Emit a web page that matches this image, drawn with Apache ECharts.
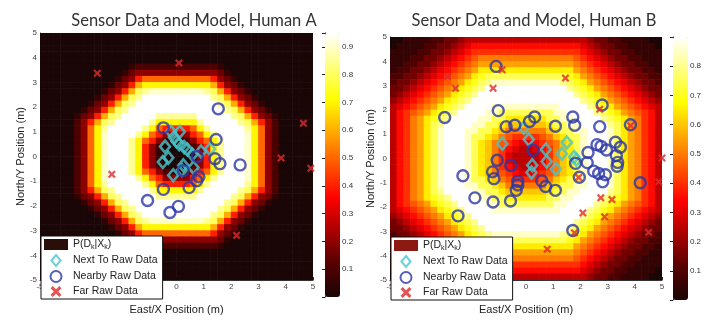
<!DOCTYPE html>
<html><head><meta charset="utf-8">
<script src="https://cdn.jsdelivr.net/npm/echarts@6/dist/echarts.min.js"></script>
<style>html,body{margin:0;padding:0;background:#fff}#c{width:704px;height:320px}</style>
</head><body><div id="c"></div>
<script>
// cell centres of the model grid (m), 0.25 m cells
const cellCenters = [-4.875,-4.625,-4.375,-4.125,-3.875,-3.625,-3.375,-3.125,-2.875,-2.625,-2.375,-2.125,-1.875,-1.625,-1.375,-1.125,-0.875,-0.625,-0.375,-0.125,
  0.125,0.375,0.625,0.875,1.125,1.375,1.625,1.875,2.125,2.375,2.625,2.875,3.125,3.375,3.625,3.875,4.125,4.375,4.625,4.875];
const axisTicks = [-5,-4,-3,-2,-1,0,1,2,3,4,5];
const colorbarTicksA = [0.1,0.2,0.3,0.4,0.5,0.6,0.7,0.8,0.9];
const colorbarTicksB = [0.1,0.2,0.3,0.4,0.5,0.6,0.7,0.8];
const colorMaxA = 0.95;
const colorMaxB = 0.9;
// model P(Dk|Xk): rows from top (y=4.875) to bottom, one char per cell, 'a'=0.00 ... 't'=0.95 (0.05 steps)
const fieldA = [
"aaaaaaaaaaaaaaaaaaaa"+"aaaaaaaaaaaaaaaaaaaa",
"aaaaaaaaaaaaaaaaaaaa"+"aaaaaaaaaaaaaaaaaaaa",
"aaaaaaaaaaaaaaaaaaaa"+"aaaaaaaaaaaaaaaaaaaa",
"aaaaaaaaaaaaaaaaaaaa"+"aaaaaaaaaaaaaaaaaaaa",
"aaaaaaaaaaaaaaaaaaaa"+"aaaaaaaaaaaaaaaaaaaa",
"aaaaaaaaaaaaabcccccc"+"ccccccbaaaaaaaaaaaaa",
"aaaaaaaaaaaabdeeeeee"+"eeeeeedbaaaaaaaaaaaa",
"aaaaaaaaaaabdeikkkkk"+"kkkkkiedbaaaaaaaaaaa",
"aaaaaaaaaabdeimooooo"+"ooooomiedbaaaaaaaaaa",
"aaaaaaaaabdeimqrssss"+"ssssrqmiedbaaaaaaaaa",
"aaaaaaaabdeimqrttttt"+"tttttrqmiedbaaaaaaaa",
"aaaaaaabdeimqrtttttt"+"ttttttrqmiedbaaaaaaa",
"aaaaaabdeimqrttttttt"+"tttttttrqmiedbaaaaaa",
"aaaaabdeimqrtttttrrr"+"rrrtttttrqmiedbaaaaa",
"aaaaaceimqrtttttrooo"+"ooortttttrqmiecaaaaa",
"aaaaacekortttttrokii"+"iikortttttrokecaaaaa",
"aaaaacekosttttrokiee"+"eeikorttttsokecaaaaa",
"aaaaacekostttrokiecb"+"bceikortttsokecaaaaa",
"aaaaacekostttroiecaa"+"aaceiortttsokecaaaaa",
"aaaaacekostttroiebaa"+"aabeiortttsokecaaaaa",
"aaaaacekostttroiebaa"+"aabeiortttsokecaaaaa",
"aaaaacekostttroiecaa"+"aaceiortttsokecaaaaa",
"aaaaacekostttrokiecb"+"bceikortttsokecaaaaa",
"aaaaacekosttttrokiee"+"eeikorttttsokecaaaaa",
"aaaaacekortttttrokii"+"iikortttttrokecaaaaa",
"aaaaaceimqrtttttrooo"+"ooortttttrqmiecaaaaa",
"aaaaabdeimqrtttttrrr"+"rrrtttttrqmiedbaaaaa",
"aaaaaabdeimqrttttttt"+"tttttttrqmiedbaaaaaa",
"aaaaaaabdeimqrtttttt"+"ttttttrqmiedbaaaaaaa",
"aaaaaaaabdeimqrttttt"+"tttttrqmiedbaaaaaaaa",
"aaaaaaaaabdeimqrssss"+"ssssrqmiedbaaaaaaaaa",
"aaaaaaaaaabdeimooooo"+"ooooomiedbaaaaaaaaaa",
"aaaaaaaaaaabdeikkkkk"+"kkkkkiedbaaaaaaaaaaa",
"aaaaaaaaaaaabdeeeeee"+"eeeeeedbaaaaaaaaaaaa",
"aaaaaaaaaaaaabcccccc"+"ccccccbaaaaaaaaaaaaa",
"aaaaaaaaaaaaaaaaaaaa"+"aaaaaaaaaaaaaaaaaaaa",
"aaaaaaaaaaaaaaaaaaaa"+"aaaaaaaaaaaaaaaaaaaa",
"aaaaaaaaaaaaaaaaaaaa"+"aaaaaaaaaaaaaaaaaaaa",
"aaaaaaaaaaaaaaaaaaaa"+"aaaaaaaaaaaaaaaaaaaa",
"aaaaaaaaaaaaaaaaaaaa"+"aaaaaaaaaaaaaaaaaaaa"
];
const fieldB = [
"aabbbbccddefffffffff"+"fffffffffeddccbbbbaa",
"abbbbccddefghhhhhhhh"+"hhhhhhhhgfeddccbbbba",
"bbbbccddefghiiiiiiii"+"iiiiiiiihgfeddccbbbb",
"bbbccddefghijkkkkkkk"+"kkkkkkkjihgfeddccbbb",
"bbccddefghijklllllll"+"lllllllkjihgfeddccbb",
"bccddefghijklnnnnnnn"+"nnnnnnnlkjihgfeddccb",
"ccddefghijklnopppppp"+"pppppponlkjihgfeddcc",
"cddefghijklnopqrrrrr"+"rrrrrqponlkjihgfeddc",
"ddefghijklnopqssssss"+"ssssssqponlkjihgfedd",
"defghijklnopqsssssss"+"sssssssqponlkjihgfed",
"efghijklnopqssssssss"+"ssssssssqponlkjihgfe",
"fghijklnopqssssrrrrr"+"rrrrrssssqponlkjihgf",
"fhijklnopqssssrrpppp"+"pppprrssssqponlkjihf",
"fhiklnopqssssrrppnnn"+"nnnpprrssssqponlkihf",
"fhiklnpqssssrrppnmmm"+"mmmnpprrssssqpnlkihf",
"fhiklnprsssrrppnmkkk"+"kkkmnpprrsssrpnlkihf",
"fhiklnprsssrppnmkjii"+"iijkmnpprsssrpnlkihf",
"fhiklnprsssrpnmkjihg"+"ghijkmnprsssrpnlkihf",
"fhiklnprsssrpnmkihgf"+"fghikmnprsssrpnlkihf",
"fhiklnprsssrpnmkigff"+"ffgikmnprsssrpnlkihf",
"fhiklnprsssrpnmkigff"+"ffgikmnprsssrpnlkihf",
"fhiklnprsssrpnmkihgf"+"fghikmnprsssrpnlkihf",
"fhiklnprsssrpnmkjihg"+"ghijkmnprsssrpnlkihf",
"fhiklnprsssrppnmkjii"+"iijkmnpprsssrpnlkihf",
"fhiklnprsssrrppnmkkk"+"kkkmnpprrsssrpnlkihf",
"fhiklnpqssssrrppnmmm"+"mmmnpprrssssqpnlkihf",
"fhiklnopqssssrrppnnn"+"nnnpprrssssqponlkihf",
"fhijklnopqssssrrpppp"+"pppprrssssqponlkjihf",
"fghijklnopqssssrrrrr"+"rrrrrssssqponlkjihgf",
"efghijklnopqssssssss"+"ssssssssqponlkjihgfe",
"defghijklnopqsssssss"+"sssssssqponlkjihgfed",
"ddefghijklnopqssssss"+"ssssssqponlkjihgfedd",
"cddefghijklnopqrrrrr"+"rrrrrqponlkjihgfeddc",
"ccddefghijklnopppppp"+"pppppponlkjihgfeddcc",
"bccddefghijklnnnnnnn"+"nnnnnnnlkjihgfeddccb",
"bbccddefghijklllllll"+"lllllllkjihgfeddccbb",
"bbbccddefghijkkkkkkk"+"kkkkkkkjihgfeddccbbb",
"bbbbccddefghiiiiiiii"+"iiiiiiiihgfeddccbbbb",
"abbbbccddefghhhhhhhh"+"hhhhhhhhgfeddccbbbba",
"aabbbbccddefffffffff"+"fffffffffeddccbbbbaa"
];
// raw sensor data, Human A
const nextA = [[-0.2,1.0],[0.12,1.0],[-0.1,0.78],[0.0,0.62],[0.1,0.5],[-0.42,0.4],[0.28,0.38],[0.4,0.28],[0.58,0.08],[0.9,0.2],[1.23,0.3],[-0.3,-0.05],[-0.5,-0.22],[0.25,-0.35],[0.62,-0.45],[-0.12,-0.76],[0.2,-0.55]];
const nearbyA = [[1.53,1.93],[-0.48,1.16],[1.45,0.69],[0.76,0.0],[1.41,-0.09],[1.59,-0.29],[2.33,-0.34],[0.25,-0.57],[0.82,-0.82],[0.74,-0.98],[0.46,-1.26],[-0.48,-1.33],[-1.06,-1.78],[0.07,-2.02],[-0.24,-2.27]];
const farA = [[-2.9,3.37],[0.09,3.79],[4.65,1.35],[3.83,-0.06],[4.92,-0.48],[-2.37,-0.72],[2.2,-3.19]];
// raw sensor data, Human B
const nextB = [[-0.87,0.61],[-0.08,1.27],[0.1,0.78],[0.73,0.37],[0.76,-0.12],[0.23,-0.28],[0.2,-0.58],[1.1,-0.43],[1.32,0.2],[1.5,0.66],[1.77,0.06],[1.85,-0.05]];
const nearbyB = [[-1.1,3.79],[-2.99,1.69],[-1.02,1.97],[-0.73,1.31],[-0.41,1.37],[0.13,1.52],[0.32,1.71],[1.08,1.33],[1.72,1.71],[1.79,1.37],[2.8,2.2],[2.71,1.31],[3.84,1.39],[0.26,0.34],[-1.06,-0.07],[-0.56,-0.29],[-2.32,-0.71],[-1.23,-0.55],[-1.18,-0.83],[-0.3,-0.94],[-0.3,-1.09],[-0.36,-1.31],[0.58,-0.92],[0.72,-1.15],[1.08,-1.31],[-0.57,-1.75],[-1.21,-1.79],[-1.88,-1.62],[-2.5,-2.36],[1.82,-0.2],[1.96,-0.77],[2.28,0.25],[2.25,-0.17],[2.61,0.57],[2.76,0.5],[2.96,0.35],[2.49,-0.52],[2.67,-0.62],[2.92,-0.67],[2.82,-0.96],[3.29,0.67],[3.47,0.46],[3.32,0.12],[3.37,-0.16],[3.35,-0.32],[4.2,-1.0],[1.72,-2.96]];
const farB = [[-0.88,3.65],[-2.89,3.37],[-2.59,2.89],[-1.21,2.89],[1.45,3.31],[2.71,2.03],[3.85,1.35],[5.0,0.02],[1.94,-0.78],[4.88,-0.96],[2.75,-1.62],[3.16,-1.69],[2.09,-2.24],[2.89,-2.4],[1.78,-3.06],[4.51,-3.04],[0.78,-3.73]];

const hot = ['#1a0606','#550000','#aa0000','#ff0000','#ff5500','#ffaa00','#ffff00','#ffff80','#ffffff'];
const FONT = 'Liberation Sans';
const XMARK = 'path://M2,0L5,3L8,0L10,2L7,5L10,8L8,10L5,7L2,10L0,8L3,5L0,2Z';
const DIAMOND = 'path://M5,0L10,6L5,12L0,6Z';
const CELL = cellCenters[1] - cellCenters[0];

function cells(field){
  const out = [];
  field.forEach((row, r) => {
    for (let c = 0; c < row.length; c++) {
      out.push([cellCenters[c], cellCenters[field.length - 1 - r], (row.charCodeAt(c) - 97) * 0.05]);
    }
  });
  return out;
}
function renderCell(params, api){
  const x = api.value(0), y = api.value(1);
  const p0 = api.coord([x - CELL / 2, y + CELL / 2]);
  const p1 = api.coord([x + CELL / 2, y - CELL / 2]);
  return {type:'rect', shape:{x:p0[0] - 0.3, y:p0[1] - 0.3, width:p1[0] - p0[0] + 0.6, height:p1[1] - p0[1] + 0.6},
    style:{fill:api.visual('color')}};
}
function valX(grid){
  return {type:'value', gridIndex:grid, position:'bottom', min:axisTicks[0], max:axisTicks[axisTicks.length-1], interval:1,
    name:'East/X Position (m)', nameLocation:'middle', nameGap:24,
    nameTextStyle:{fontSize:11, color:'#222', fontFamily:FONT},
    axisLine:{show:true, onZero:false, lineStyle:{color:'#333', width:1}},
    axisTick:{show:true, inside:true, length:3, lineStyle:{color:'#333'}},
    axisLabel:{fontSize:8, color:'#444', margin:3, fontFamily:FONT},
    splitLine:{show:false}};
}
function valY(grid){
  return {type:'value', gridIndex:grid, position:'left', min:axisTicks[0], max:axisTicks[axisTicks.length-1], interval:1,
    name:'North/Y Position (m)', nameLocation:'middle', nameGap:11,
    nameTextStyle:{fontSize:11, color:'#222', fontFamily:FONT},
    axisLine:{show:true, onZero:false, lineStyle:{color:'#333', width:1}},
    axisTick:{show:true, inside:true, length:3, lineStyle:{color:'#333'}},
    axisLabel:{fontSize:8, color:'#444', margin:3, fontFamily:FONT},
    splitLine:{show:false}};
}
function cbY(grid, max, ticks){
  return {type:'value', gridIndex:grid, position:'right', min:0, max:max, interval:0.1,
    axisLine:{show:true, lineStyle:{color:'#222'}},
    axisTick:{show:true, inside:true, length:3, lineStyle:{color:'#222'}},
    axisLabel:{fontSize:8, color:'#333', margin:2, fontFamily:FONT,
      formatter:v => ticks.some(t => Math.abs(t - v) < 1e-6) ? v.toFixed(1) : ''},
    splitLine:{show:false}};
}
function scatterSeries(name, data, xi, yi, kind){
  const s = {type:'scatter', name:name, data:data, xAxisIndex:xi, yAxisIndex:yi, z:3};
  if (kind === 'diamond') { s.symbol=DIAMOND; s.symbolSize=[10,12]; s.itemStyle={color:'rgba(0,0,0,0)', borderColor:'#46c6cc', borderWidth:2.6}; }
  if (kind === 'circle') { s.symbol='circle'; s.symbolSize=11; s.itemStyle={color:'rgba(0,0,0,0)', borderColor:'#2a36a8', borderWidth:2.4}; }
  if (kind === 'x') { s.symbol=XMARK; s.symbolSize=8; s.itemStyle={color:'#e02a2a'}; s.z=4; }
  return s;
}
function heatSeries(field, axisIndex){
  return {type:'custom', name:'P(D_k|X_k)', data:cells(field), xAxisIndex:axisIndex, yAxisIndex:axisIndex,
    renderItem:renderCell, clip:true, z:1, encode:{x:0, y:1}, silent:true};
}
function legendFor(left, top, patch){
  return {left:left, top:top, orient:'vertical', backgroundColor:'#fff', borderColor:'#111', borderWidth:1,
    padding:[3,5,2,3], itemGap:3, itemWidth:24, itemHeight:11, selectedMode:false, symbolKeepAspect:true,
    textStyle:{fontSize:10.5, color:'#222', fontFamily:FONT,
      rich:{n:{fontSize:10.5, color:'#222', fontFamily:FONT}, s:{fontSize:7, color:'#222', fontFamily:FONT, padding:[6,0,0,0]}}},
    formatter:name => name === 'P(D_k|X_k)' ? '{n|P(D}{s|k}{n||X}{s|k}{n|)}' : name,
    data:[{name:'P(D_k|X_k)', icon:'rect', itemStyle:{color:patch, borderWidth:0}},
      {name:'Next To Raw Data', icon:DIAMOND},
      {name:'Nearby Raw Data', icon:'path://M5,0A5,5,0,1,1,4.99,0Z'},
      {name:'Far Raw Data', icon:XMARK}]};
}

const chart = echarts.init(document.getElementById('c'), null, {renderer:'canvas'});
chart.setOption({
  animation:false,
  backgroundColor:'#fff',
  title:[
    {text:'Sensor Data and Model, Human A', left:189, textAlign:'center', top:7, textStyle:{fontSize:16.5, fontWeight:'normal', color:'#333', fontFamily:'Lato'}},
    {text:'Sensor Data and Model, Human B', left:529, textAlign:'center', top:7, textStyle:{fontSize:16.5, fontWeight:'normal', color:'#333', fontFamily:'Lato'}}
  ],
  grid:[
    {left:40, top:33, width:273, height:264},
    {left:390, top:37, width:272, height:262},
    {left:325, top:33, width:15, height:264},
    {left:673, top:37, width:15, height:263}
  ],
  xAxis:[valX(0), valX(1),
    {type:'value', gridIndex:2, min:0, max:1, show:false},
    {type:'value', gridIndex:3, min:0, max:1, show:false}],
  yAxis:[valY(0), valY(1), cbY(2, colorMaxA, colorbarTicksA), cbY(3, colorMaxB, colorbarTicksB)],
  visualMap:[
    {type:'continuous', min:0, max:colorMaxA, dimension:2, seriesIndex:0, orient:'vertical', left:325, top:33, itemWidth:15, itemHeight:264, calculable:false, hoverLink:false, padding:0, inRange:{color:hot}},
    {type:'continuous', min:0, max:colorMaxB, dimension:2, seriesIndex:4, orient:'vertical', left:673, top:37, itemWidth:15, itemHeight:263, calculable:false, hoverLink:false, padding:0, inRange:{color:hot}}
  ],
  legend:[legendFor(41, 236, '#2a0e0a'), legendFor(391, 237, '#8c1a12')],
  series:[
    heatSeries(fieldA, 0),
    scatterSeries('Next To Raw Data', nextA, 0, 0, 'diamond'),
    scatterSeries('Nearby Raw Data', nearbyA, 0, 0, 'circle'),
    scatterSeries('Far Raw Data', farA, 0, 0, 'x'),
    heatSeries(fieldB, 1),
    scatterSeries('Next To Raw Data', nextB, 1, 1, 'diamond'),
    scatterSeries('Nearby Raw Data', nearbyB, 1, 1, 'circle'),
    scatterSeries('Far Raw Data', farB, 1, 1, 'x')
  ]
});
</script></body></html>
